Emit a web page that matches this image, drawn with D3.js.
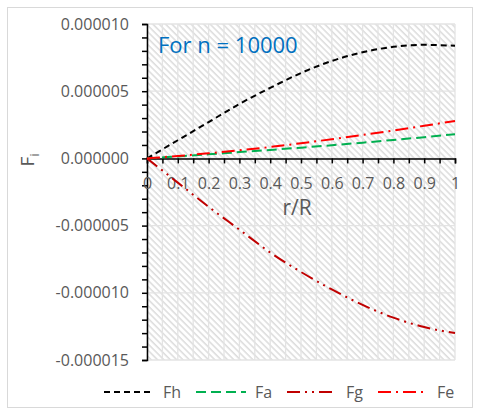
<!DOCTYPE html>
<html>
<head>
<meta charset="utf-8">
<script src="https://cdn.jsdelivr.net/npm/d3@7"></script>
<style>
  body { margin: 0; background: #fff; }
  text { font-family: "Open Sans", sans-serif; }
</style>
</head>
<body>
<script>
'use strict';

// r/R positions
const rR = [0, 0.1, 0.2, 0.3, 0.4, 0.5, 0.6, 0.7, 0.8, 0.9, 1.0];

// force components
const Fh = [0, 1.35e-6, 2.7e-6, 4.05e-6, 5.25e-6, 6.35e-6, 7.25e-6, 7.9e-6, 8.3e-6, 8.45e-6, 8.38e-6];
const Fa = [0, 0.15e-6, 0.3e-6, 0.47e-6, 0.63e-6, 0.8e-6, 0.98e-6, 1.17e-6, 1.37e-6, 1.58e-6, 1.8e-6];
const Fg = [0, -1.8e-6, -3.6e-6, -5.3e-6, -7.0e-6, -8.45e-6, -9.75e-6, -10.9e-6, -11.85e-6, -12.55e-6, -13.0e-6];
const Fe = [0, 0.18e-6, 0.38e-6, 0.6e-6, 0.85e-6, 1.13e-6, 1.43e-6, 1.75e-6, 2.08e-6, 2.43e-6, 2.78e-6];

const seriesNames = ["Fh", "Fa", "Fg", "Fe"];
const seriesValues = [Fh, Fa, Fg, Fe];

const xTicks = [0, 0.1, 0.2, 0.3, 0.4, 0.5, 0.6, 0.7, 0.8, 0.9, 1];
const yTicks = [-15e-6, -10e-6, -5e-6, 0, 5e-6, 10e-6];

// line styles per series
const styles = {
  Fh: { color: "#000000", dash: "6,4" },
  Fa: { color: "#00B050", dash: "10,5" },
  Fg: { color: "#C00000", dash: "13,5,2,5,2,5" },
  Fe: { color: "#FF0000", dash: "13,5,2,5" }
};

const svg = d3.select("body").append("svg")
  .attr("width", 480)
  .attr("height", 420);

// chart border
svg.append("rect")
  .attr("x", 7.5).attr("y", 7.5)
  .attr("width", 465).attr("height", 400)
  .attr("fill", "#fff")
  .attr("stroke", "#d9d9d9");

const plot = { left: 147, right: 455, top: 24, bottom: 360 };

const x = d3.scaleLinear().domain([0, 1]).range([plot.left, plot.right]);
const y = d3.scaleLinear().domain([-15e-6, 10e-6]).range([plot.bottom, plot.top]);

// hatched plot background
const defs = svg.append("defs");
defs.append("pattern")
  .attr("id", "hatch")
  .attr("patternUnits", "userSpaceOnUse")
  .attr("width", 4.5).attr("height", 4.5)
  .attr("patternTransform", "rotate(-45)")
  .append("line")
    .attr("x1", 1).attr("y1", 0)
    .attr("x2", 1).attr("y2", 4.5)
    .attr("stroke", "#d6d6d6")
    .attr("stroke-width", 1.3);

svg.append("rect")
  .attr("x", plot.left).attr("y", plot.top)
  .attr("width", plot.right - plot.left)
  .attr("height", plot.bottom - plot.top)
  .attr("fill", "url(#hatch)");

// gridlines
const xGrid = d3.range(0, 21).map(i => i * 0.05);
svg.append("g").selectAll("line")
  .data(xGrid)
  .enter()
  .append("line")
    .attr("x1", d => x(d)).attr("x2", d => x(d))
    .attr("y1", plot.top).attr("y2", plot.bottom)
    .attr("stroke", "#e3e3e3")
    .attr("stroke-width", 1.3);

svg.append("g").selectAll("line")
  .data(yTicks)
  .enter()
  .append("line")
    .attr("x1", plot.left).attr("x2", plot.right)
    .attr("y1", d => y(d)).attr("y2", d => y(d))
    .attr("stroke", "#e3e3e3")
    .attr("stroke-width", 1.3);

// y axis with minor ticks every 1e-6
const yMinor = d3.range(-15, 11).map(i => i * 1e-6);
const yAxis = d3.axisLeft(y)
  .tickValues(yMinor)
  .tickSize(5)
  .tickFormat(d => yTicks.some(t => Math.abs(t - d) < 1e-9) ? d.toFixed(6) : "");
const gy = svg.append("g")
  .attr("transform", "translate(" + plot.left + ",0)")
  .call(yAxis);
gy.select(".domain").attr("stroke", "#000").attr("stroke-width", 1.5);
gy.selectAll(".tick line").attr("stroke", "#000").attr("stroke-width", 1.5);
gy.selectAll(".tick text")
  .attr("x", -18)
  .attr("fill", "#595959")
  .style("font-size", "16px");

// x axis at zero with ticks every 0.05
const xAxis = d3.axisBottom(x)
  .tickValues(xGrid)
  .tickSize(5)
  .tickFormat(d => xTicks.some(t => Math.abs(t - d) < 1e-9) ? d3.format("~g")(d) : "");
const gx = svg.append("g")
  .attr("transform", "translate(0," + y(0) + ")")
  .call(xAxis);
gx.select(".domain").attr("stroke", "#000").attr("stroke-width", 1.5);
gx.selectAll(".tick line").attr("stroke", "#000").attr("stroke-width", 1.5);
gx.selectAll(".tick text")
  .attr("y", 31)
  .attr("dy", null)
  .attr("fill", "#595959")
  .style("font-size", "16px");

// series lines
const line = d3.line()
  .x((d, i) => x(rR[i]))
  .y(d => y(d))
  .curve(d3.curveMonotoneX);

seriesNames.forEach((name, i) => {
  svg.append("path")
    .datum(seriesValues[i])
    .attr("d", line)
    .attr("fill", "none")
    .attr("stroke", styles[name].color)
    .attr("stroke-width", 2)
    .attr("stroke-dasharray", styles[name].dash);
});

// axis titles
svg.append("text")
  .attr("x", 297)
  .attr("y", 215)
  .attr("text-anchor", "middle")
  .attr("fill", "#595959")
  .style("font-size", "21px")
  .text("r/R");

const yLabel = svg.append("text")
  .attr("transform", "translate(34,160)rotate(-90)")
  .attr("text-anchor", "middle")
  .attr("fill", "#595959")
  .style("font-size", "19px");
yLabel.append("tspan").text("F");
yLabel.append("tspan").attr("dy", 5).style("font-size", "12px").text("i");

// annotation
svg.append("text")
  .attr("x", 158)
  .attr("y", 53)
  .attr("fill", "#0070C0")
  .style("font-size", "22px")
  .text("For n = 10000");

// legend
const legendX = [104, 196, 287, 378];
seriesNames.forEach((name, i) => {
  svg.append("line")
    .attr("x1", legendX[i]).attr("x2", legendX[i] + 50)
    .attr("y1", 392).attr("y2", 392)
    .attr("stroke", styles[name].color)
    .attr("stroke-width", 2)
    .attr("stroke-dasharray", styles[name].dash);
  svg.append("text")
    .attr("x", legendX[i] + 59)
    .attr("y", 398)
    .attr("fill", "#595959")
    .style("font-size", "16px")
    .text(name);
});
</script>
</body>
</html>
